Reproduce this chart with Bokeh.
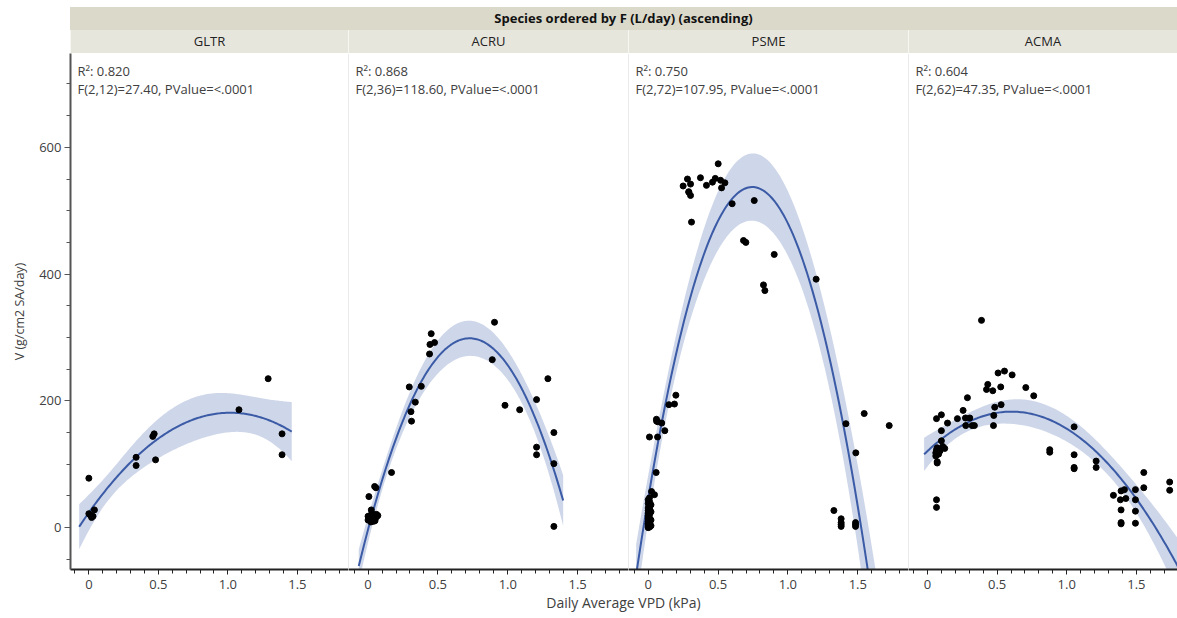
import numpy as np
from bokeh.plotting import figure
from bokeh.layouts import column, row
from bokeh.models import (Div, Label, Span, SingleIntervalTicker,
                          CustomJSTickFormatter, Range1d)
from bokeh.embed import file_html
from bokeh.resources import INLINE

# ---------------- data ----------------
species = ["GLTR", "ACRU", "PSME", "ACMA"]
r2_text = ["0.820", "0.868", "0.750", "0.604"]
f_text = ["F(2,12)=27.40, PValue=<.0001",
          "F(2,36)=118.60, PValue=<.0001",
          "F(2,72)=107.95, PValue=<.0001",
          "F(2,62)=47.35, PValue=<.0001"]
t_crit = [2.179, 2.028, 1.993, 1.999]   # 97.5% t quantiles for the residual df

gltr_x = [0.00, 0.00, 0.02, 0.03, 0.04, 0.01, 0.34, 0.34, 0.46, 0.47, 0.48,
          1.08, 1.29, 1.39, 1.39]
gltr_y = [78, 22, 16, 18, 28, 20, 111, 98, 144, 148, 107, 186, 235, 148, 115]

acru_x = [0.905, 0.452, 0.443, 0.476, 0.44, 0.889, 1.287, 0.295, 0.381, 1.206,
          0.338, 0.307, 0.311, 0.98, 1.085, 1.33, 1.206, 1.206, 1.33, 1.33,
          0.168, 0.047, 0.056, 0.006, 0.023,
          0.00, 0.01, 0.02, 0.03, 0.04, 0.05, 0.06, 0.07, 0.00, 0.02, 0.03,
          0.05, 0.06, 0.04]
acru_y = [324, 306, 289, 292, 274, 265, 235, 222, 223, 202,
          198, 183, 168, 193, 186, 150, 127, 115, 101, 2,
          87, 65, 63, 49, 28,
          18, 12, 20, 15, 10, 14, 17, 19, 12, 9, 22, 11, 21, 16]

psme_x = [0.501, 0.281, 0.374, 0.48, 0.518, 0.549, 0.303, 0.25, 0.417, 0.525,
          0.291, 0.303, 0.601, 0.759, 0.31, 0.682, 0.699, 0.902, 1.202, 0.825,
          0.835,
          0.198, 0.148, 0.188, 1.546, 0.059, 0.069, 0.097, 1.415, 1.725, 0.119,
          0.009, 0.067, 1.486, 0.057, 0.024, 0.045, 0.009, 1.329, 1.381, 1.381,
          1.381, 1.484, 1.484,
          0.0, 0.01, 0.0, 0.02, 0.01, 0.0, 0.01, 0.0, 0.02, 0.0, 0.01, 0.0, 0.0,
          0.01, 0.0, 0.02, 0.0, 0.01, 0.0, 0.0, 0.01, 0.0, 0.02, 0.0, 0.01, 0.0,
          1.381, 1.484, 0.29, 0.46, 0.06]
psme_y = [574, 550, 552, 551, 548, 544, 542, 539, 540, 536,
          529, 524, 511, 516, 482, 453, 450, 431, 392, 383,
          374,
          209, 194, 195, 180, 171, 167, 165, 164, 161, 153,
          143, 143, 118, 87, 57, 52, 47, 27, 14, 8,
          2, 8, 2,
          44, 41, 38, 36, 33, 31, 29, 27, 25, 23, 21, 19, 17,
          15, 14, 12, 10, 9, 7, 6, 5, 4, 3, 2, 1, 0,
          5, 5, 530, 545, 168]

acma_x = [0.388, 0.553, 0.507, 0.608, 0.433, 0.424, 0.469, 0.526, 0.706, 0.763,
          0.287, 0.529, 0.483, 0.256, 0.100, 0.065, 0.215, 0.273, 0.304, 0.476,
          0.144, 0.275, 0.321, 0.337, 0.474, 0.100, 0.100, 0.065, 0.065, 0.088,
          0.124, 0.070, 0.070, 0.065, 0.065, 0.878, 0.878, 1.053, 1.053, 1.053,
          1.053, 1.211, 1.211, 1.553, 1.553, 1.739, 1.739, 1.335, 1.390, 1.414,
          1.493, 1.385, 1.424, 1.493, 1.390, 1.390, 1.390, 1.493, 1.493,
          0.06, 0.07, 0.08, 0.11, 0.06, 0.09]
acma_y = [327, 247, 244, 241, 226, 218, 216, 222, 221, 208,
          205, 194, 190, 185, 178, 172, 172, 173, 173, 177,
          165, 161, 161, 161, 161, 153, 137, 123, 119, 122,
          125, 104, 102, 44, 32, 123, 119, 159, 115, 95,
          93, 105, 95, 87, 63, 72, 59, 51, 58, 60,
          60, 44, 46, 44, 28, 8, 6, 26, 7,
          118, 126, 116, 128, 113, 121]

xs_all = [gltr_x, acru_x, psme_x, acma_x]
ys_all = [gltr_y, acru_y, psme_y, acma_y]

# ---------------- layout / style ----------------
FONT = "Open Sans"
frame_w = [278, 280, 280, 269]
x_start = [-0.132, -0.14, -0.141, -0.136]
x_end = [1.868, 1.864, 1.863, 1.795]
FRAME_H = 516
LEFT = 70
TOP = 7
BAND = "#3b5ba6"


def quad_fit(xv, yv, t):
    x = np.asarray(xv, float)
    y = np.asarray(yv, float)
    X = np.column_stack([np.ones_like(x), x, x ** 2])
    beta, *_ = np.linalg.lstsq(X, y, rcond=None)
    res = y - X @ beta
    s2 = res @ res / (len(x) - 3)
    cov = s2 * np.linalg.inv(X.T @ X)
    span = x.max() - x.min()
    g = np.linspace(x.min() - 0.05 * span, x.max() + 0.05 * span, 150)
    G = np.column_stack([np.ones_like(g), g, g ** 2])
    yh = G @ beta
    se = np.sqrt(np.einsum("ij,jk,ik->i", G, cov, G))
    return g, yh, yh - t * se, yh + t * se


y_range = Range1d(-66, 748)
figs = []
for i, sp in enumerate(species):
    first = i == 0
    p = figure(frame_width=frame_w[i], frame_height=FRAME_H,
               x_range=Range1d(x_start[i], x_end[i]), y_range=y_range,
               output_backend="svg", toolbar_location=None,
               y_axis_location="left" if first else None,
               min_border_left=LEFT if first else 0, min_border_right=0,
               min_border_top=0, min_border_bottom=0,
               outline_line_color=None, background_fill_color="white")
    p.xgrid.visible = False
    p.ygrid.visible = False

    g, yh, lo, hi = quad_fit(xs_all[i], ys_all[i], t_crit[i])
    p.varea(x=g, y1=lo, y2=hi, fill_color=BAND, fill_alpha=0.25)
    p.line(g, yh, line_color=BAND, line_width=2)
    p.scatter(xs_all[i], ys_all[i], size=6, color="black")

    xa = p.xaxis[0]
    xa.ticker = SingleIntervalTicker(interval=0.5, num_minor_ticks=5)
    xa.formatter = CustomJSTickFormatter(
        code="return Math.abs(tick) < 1e-9 ? '0' : tick.toFixed(1);")
    xa.axis_line_color = "#222222"
    xa.axis_line_width = 2
    xa.major_tick_line_color = "#222222"
    xa.minor_tick_line_color = "#222222"
    xa.major_tick_out = 5
    xa.major_tick_in = 0
    xa.minor_tick_out = 4
    xa.minor_tick_in = 0
    xa.major_label_text_font = FONT
    xa.major_label_text_font_size = "13px"
    xa.major_label_text_color = "#404040"
    xa.major_label_standoff = 5

    if first:
        ya = p.yaxis[0]
        ya.ticker = SingleIntervalTicker(interval=200, num_minor_ticks=4)
        ya.axis_line_color = "#555555"
        ya.axis_line_width = 2
        ya.major_tick_line_color = "#555555"
        ya.minor_tick_line_color = "#555555"
        ya.major_tick_out = 6
        ya.major_tick_in = 0
        ya.minor_tick_out = 4
        ya.minor_tick_in = 0
        ya.major_label_text_font = FONT
        ya.major_label_text_font_size = "13px"
        ya.major_label_text_color = "#404040"
        ya.major_label_standoff = 3
        ya.axis_label = "V (g/cm2 SA/day)"
        ya.axis_label_text_font = FONT
        ya.axis_label_text_font_size = "12.5px"
        ya.axis_label_text_font_style = "normal"
        ya.axis_label_text_color = "#404040"
        ya.axis_label_standoff = 8
    else:
        p.add_layout(Span(location=x_start[i], dimension="height",
                          line_color="#d6d6d6", line_width=1))

    p.add_layout(Label(x=7, y=FRAME_H - 17, x_units="screen", y_units="screen",
                       text="R\u00b2: " + r2_text[i], text_font=FONT,
                       text_font_size="13px", text_color="#404040",
                       text_baseline="middle"))
    p.add_layout(Label(x=7, y=FRAME_H - 35, x_units="screen", y_units="screen",
                       text=f_text[i], text_font=FONT,
                       text_font_size="13px", text_color="#404040",
                       text_baseline="middle"))
    figs.append(p)

total_w = sum(frame_w)
cells = "".join(
    f'<div style="width:{w}px;box-sizing:border-box;text-align:center;'
    f'border-left:1px solid #f6f6f2;">{s}</div>'
    for w, s in zip(frame_w, species))
header = Div(text=(
    f'<div style="width:{total_w}px;font-family:\'{FONT}\';font-size:13px;">'
    f'<div style="height:23px;line-height:23px;background:#dbd9ca;'
    f'text-align:center;font-weight:bold;color:#111;">'
    f'Species ordered by F (L/day) (ascending)</div>'
    f'<div style="display:flex;height:23px;line-height:23px;'
    f'background:#e7e6dd;color:#222;">{cells}</div></div>'),
    width=total_w, height=46, margin=(TOP, 0, 0, LEFT))

xlabel = Div(text=(
    f'<div style="width:{total_w}px;font-family:\'{FONT}\';font-size:14px;'
    f'text-align:center;color:#404040;line-height:20px;">'
    f'Daily Average VPD (kPa)</div>'),
    width=total_w, height=20, margin=(2, 0, 0, LEFT))

layout = column(header, row(*figs, spacing=0), xlabel, spacing=0)

open("out.html", "w").write(file_html(layout, INLINE))
